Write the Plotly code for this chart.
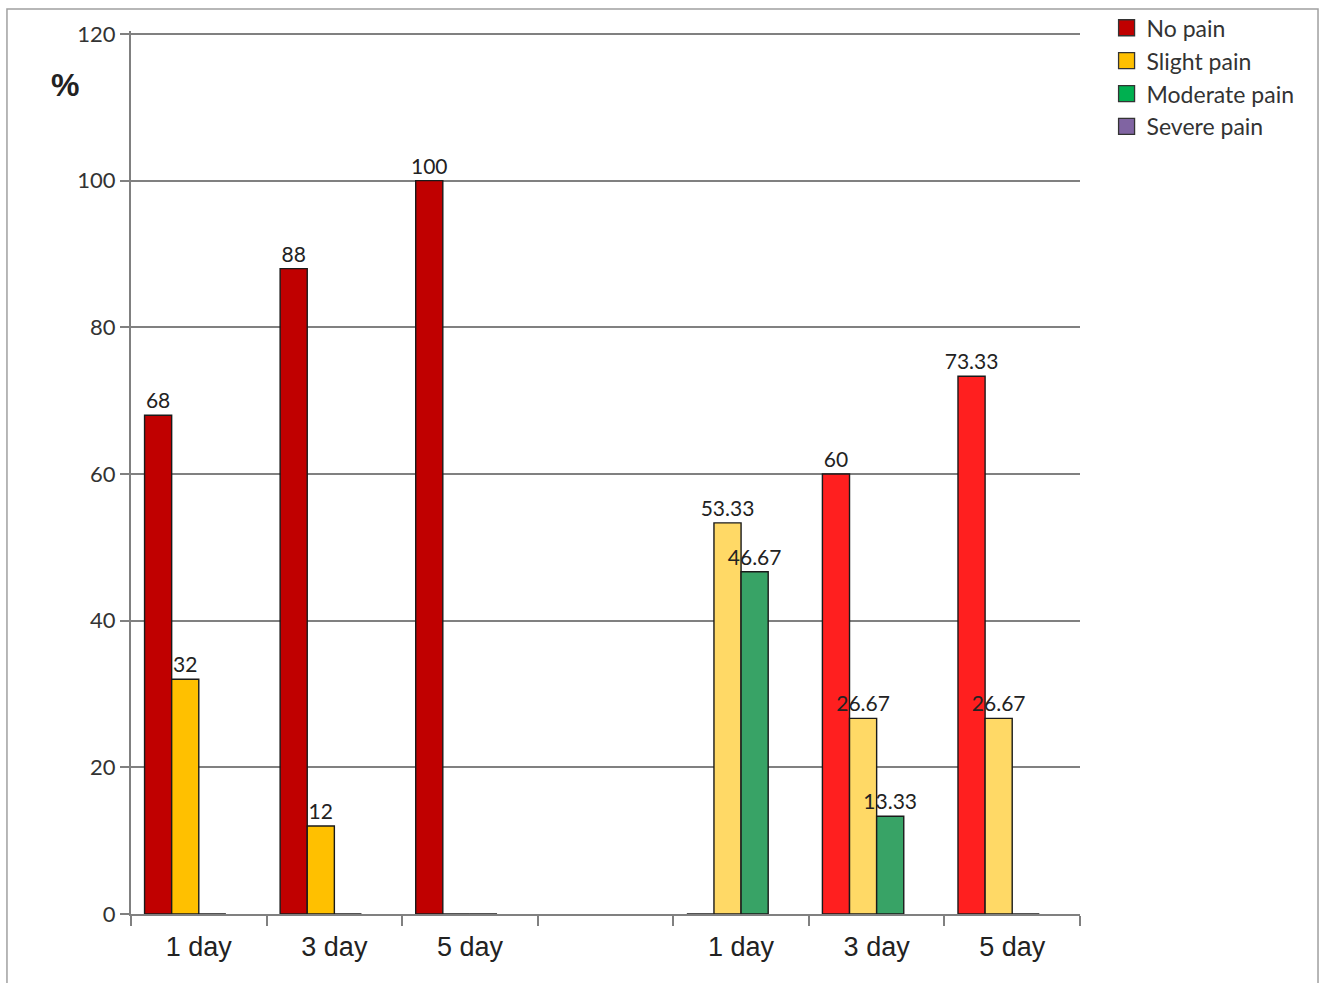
import plotly.graph_objects as go

categories = ["1 day", "3 day", "5 day", "", "1 day", "3 day", "5 day"]
series_names = ["No pain", "Slight pain", "Moderate pain", "Severe pain"]
no_pain = [68, 88, 100, None, 0, 60, 73.33]
slight_pain = [32, 12, 0, None, 53.33, 26.67, 26.67]
moderate_pain = [0, 0, 0, None, 46.67, 13.33, 0]
severe_pain = [None, None, None, None, None, None, None]
y_ticks = [0, 20, 40, 60, 80, 100, 120]

# styles
left_colors = ["#C00000", "#FFC000", "#00B050", "#8064A2"]
right_colors = ["#FF1F1F", "#FFD966", "#38A366", "#8064A2"]
legend_colors = ["#C00000", "#FFC000", "#00B050", "#8064A2"]

x = list(range(len(categories)))
all_series = [no_pain, slight_pain, moderate_pain, severe_pain]

fig = go.Figure()
for i, (name, vals) in enumerate(zip(series_names, all_series)):
    colors = [left_colors[i] if xi < 3 else right_colors[i] for xi in x]
    text = [("" if (v is None or v == 0) else f"{v:g}") for v in vals]
    fig.add_trace(go.Bar(
        x=x, y=vals, name=name, showlegend=False,
        marker=dict(color=colors, line=dict(color="#1a1a1a", width=1.4)),
        text=text, textposition="outside", cliponaxis=False,
        constraintext="none",
        textfont=dict(family="Lato, Carlito, Open Sans", size=21, color="#222222"),
    ))

for i, name in enumerate(series_names):
    fig.add_trace(go.Scatter(
        x=[None], y=[None], mode="markers", name=name,
        marker=dict(symbol="square", size=19, color=legend_colors[i],
                    line=dict(color="#333333", width=1.3)),
    ))

fig.update_layout(
    width=1325, height=983,
    margin=dict(l=131, r=245, t=31, b=69, autoexpand=False),
    paper_bgcolor="white", plot_bgcolor="white",
    barmode="group", bargap=0.2, bargroupgap=0,
    legend=dict(
        x=1.028, y=1.028, xanchor="left", yanchor="top",
        font=dict(family="Lato, Carlito, Open Sans", size=23, color="#333333"),
        itemsizing="trace", bgcolor="rgba(0,0,0,0)",
    ),
    showlegend=True,
    font=dict(family="Lato, Open Sans", color="#333333"),
)

fig.update_xaxes(
    range=[-0.5, 6.5], tickvals=x, ticktext=categories,
    ticks="", showgrid=False, zeroline=False,
    showline=True, linecolor="#808080", linewidth=2,
    ticklabelstandoff=8,
    tickfont=dict(family="Liberation Sans Narrow, Arial Narrow, Liberation Sans", size=27, color="#222222"),
    minor=dict(tickvals=[xi - 0.5 for xi in x] + [x[-1] + 0.5], ticks="outside",
               ticklen=10, tickwidth=2, tickcolor="#808080", showgrid=False),
)
fig.update_yaxes(
    range=[0, 120.4], tickvals=y_ticks, ticks="outside", ticklen=9, tickwidth=2,
    tickcolor="#808080", showgrid=True, gridcolor="#808080", gridwidth=2,
    showline=True, linecolor="#808080", linewidth=2, zeroline=False,
    tickfont=dict(family="Lato, Carlito, Open Sans", size=22, color="#333333"),
)

fig.add_annotation(
    text="<b>%</b>", xref="paper", yref="paper", x=-0.0695, y=0.939,
    xanchor="center", yanchor="middle",
    showarrow=False, font=dict(family="Liberation Sans, Arial", size=32, color="#222222"),
)
fig.add_shape(
    type="rect", xref="paper", yref="paper",
    x0=-0.1307, x1=1.2508, y0=-0.09, y1=1.025,
    line=dict(color="#A0A0A0", width=1.5), fillcolor="rgba(0,0,0,0)", layer="below",
)

fig.write_html("out.html")
